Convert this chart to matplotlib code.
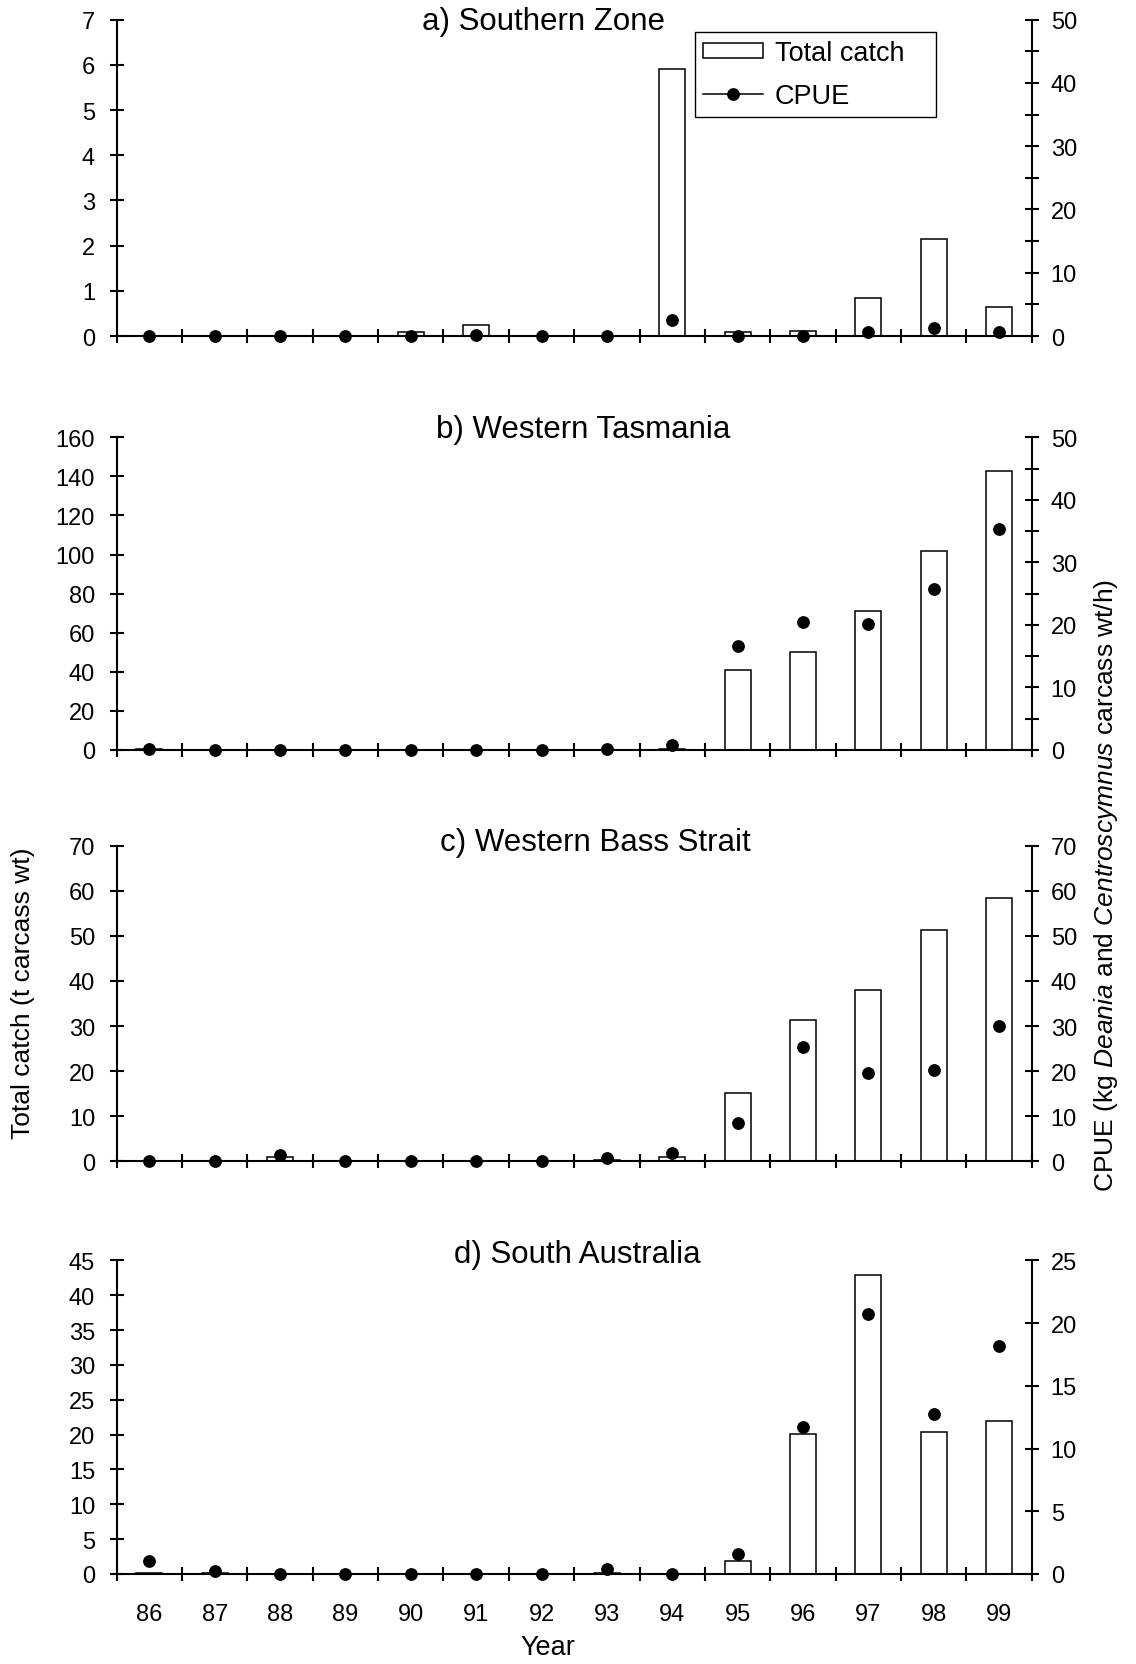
import matplotlib
matplotlib.use("Agg")
import matplotlib.pyplot as plt
from matplotlib.lines import Line2D
from matplotlib.patches import Patch
import numpy as np

plt.rcParams['font.family'] = ['Liberation Sans', 'DejaVu Sans']
plt.rcParams['mathtext.fontset'] = 'custom'
plt.rcParams['mathtext.rm'] = 'Liberation Sans'
plt.rcParams['mathtext.it'] = 'Liberation Sans:italic'

years = ['86', '87', '88', '89', '90', '91', '92', '93', '94', '95', '96', '97', '98', '99']

catch_a = [0, 0, 0, 0, 0.08, 0.25, 0, 0, 5.92, 0.08, 0.12, 0.84, 2.15, 0.64]
cpue_a = [0, 0, 0, 0, 0, 0.15, 0, 0, 2.5, 0, 0, 0.6, 1.3, 0.6]

catch_b = [0.5, 0, 0, 0, 0, 0, 0, 0, 0.5, 40.9, 50.3, 71.3, 101.7, 142.6]
cpue_b = [0.15, 0, 0, 0, 0, 0, 0, 0.2, 0.85, 16.6, 20.5, 20.1, 25.7, 35.3]

catch_c = [0, 0, 0.9, 0, 0, 0, 0, 0.2, 1.0, 15.1, 31.3, 38.1, 51.3, 58.5]
cpue_c = [0, 0, 1.3, 0, 0, 0, 0, 0.7, 1.8, 8.6, 25.4, 19.6, 20.2, 30.0]

catch_d = [0.1, 0.2, 0, 0, 0, 0, 0, 0.2, 0, 1.9, 20.1, 42.9, 20.3, 21.9]
cpue_d = [1.0, 0.2, 0, 0, 0, 0, 0, 0.4, 0, 1.6, 11.7, 20.7, 12.75, 18.2]

titles = ['a) Southern Zone', 'b) Western Tasmania', 'c) Western Bass Strait', 'd) South Australia']

W, H = 1136, 1665
fig = plt.figure(figsize=(W / 100, H / 100), dpi=100)

# panel layout in pixels: (top, bottom)
panels_px = [(20.7, 337.0), (438.3, 751.0), (846.7, 1162.3), (1261.3, 1575.0)]
left_px, right_px = 116.7, 1031.7
title_px = [(543, 22), (583, 430), (595, 843), (577, 1255)]

cfg = [
    dict(c=catch_a, p=cpue_a, lmax=7, lstep=1, rmax=50, rmaj=10, rmin=5),
    dict(c=catch_b, p=cpue_b, lmax=160, lstep=20, rmax=50, rmaj=10, rmin=5),
    dict(c=catch_c, p=cpue_c, lmax=70, lstep=10, rmax=70, rmaj=10, rmin=None),
    dict(c=catch_d, p=cpue_d, lmax=45, lstep=5, rmax=25, rmaj=5, rmin=None),
]

TICKFS = 17
x = np.arange(len(years))
lw_sp = 1.5

for i, (cf, (t, b)) in enumerate(zip(cfg, panels_px)):
    ax = fig.add_axes([left_px / W, 1 - b / H, (right_px - left_px) / W, (b - t) / H])
    ax.bar(x, cf['c'], width=0.4, color='white', edgecolor='black', linewidth=1.1, zorder=1)
    ax.set_xlim(-0.5, len(years) - 0.5)
    ax.set_ylim(0, cf['lmax'])
    ax.set_yticks(np.arange(0, cf['lmax'] + 0.001, cf['lstep']))
    ax.set_yticklabels([f"{v:g}" for v in np.arange(0, cf['lmax'] + 0.001, cf['lstep'])])
    ax.set_xticks(np.arange(-0.5, len(years)))
    ax.set_xticklabels([])
    ax.set_xticks(x, minor=True)
    if i == 3:
        ax.set_xticklabels(years, minor=True)
    else:
        ax.set_xticklabels([], minor=True)
    ax.tick_params(axis='x', which='major', direction='inout', length=10, width=lw_sp)
    ax.tick_params(axis='x', which='minor', length=0, pad=21, labelsize=TICKFS)
    ax.tick_params(axis='y', which='major', direction='inout', length=10, width=lw_sp,
                   pad=10.6, labelsize=TICKFS)
    ax.spines['top'].set_visible(False)
    ax.spines['right'].set_visible(False)
    for s in ['left', 'bottom']:
        ax.spines[s].set_linewidth(lw_sp)

    ax2 = ax.twinx()
    ax2.plot(x, cf['p'], linestyle='none', marker='o', color='black', markersize=8.2,
             clip_on=False, zorder=5)
    ax2.set_ylim(0, cf['rmax'])
    ax2.set_yticks(np.arange(0, cf['rmax'] + 0.001, cf['rmaj']))
    ax2.set_yticklabels([f"{v:g}" for v in np.arange(0, cf['rmax'] + 0.001, cf['rmaj'])])
    if cf['rmin']:
        ax2.set_yticks(np.arange(0, cf['rmax'] + 0.001, cf['rmin']), minor=True)
        ax2.tick_params(axis='y', which='minor', direction='inout', length=10, width=lw_sp)
    ax2.tick_params(axis='y', which='major', direction='inout', length=10, width=lw_sp,
                    pad=8.7, labelsize=TICKFS)
    for s in ['top', 'left', 'bottom']:
        ax2.spines[s].set_visible(False)
    ax2.spines['right'].set_linewidth(lw_sp)

    tx, ty = title_px[i]
    fig.text(tx / W, 1 - ty / H, titles[i], ha='center', va='center', fontsize=22.5)

    if i == 0:
        handles = [Patch(facecolor='white', edgecolor='black', linewidth=1.1),
                   Line2D([], [], color='black', marker='o', markersize=8.2, linewidth=1.1)]
        x0, y0, x1, y1 = 695, 33, 936, 113
        leg = fig.legend(handles, ['Total catch', 'CPUE'],
                         bbox_to_anchor=(x0 / W, 1 - y1 / H, (x1 - x0) / W, (y1 - y0) / H),
                         loc='upper left', mode='expand', fontsize=19.5, frameon=True,
                         fancybox=False, edgecolor='black', framealpha=1,
                         borderpad=0.3, borderaxespad=0, handlelength=2.2,
                         handleheight=0.5, handletextpad=0.45, labelspacing=0.62)
        leg.get_frame().set_linewidth(1.0)

fig.text(23 / W, 1 - 993 / H, 'Total catch (t carcass wt)', rotation=90,
         ha='center', va='center', fontsize=19)
fig.text(1106 / W, 1 - 885 / H,
         r'CPUE (kg $\mathit{Deania}$ and $\mathit{Centroscymnus}$ carcass wt/h)',
         rotation=90, ha='center', va='center', fontsize=19)
fig.text(548 / W, 1 - 1648 / H, 'Year', ha='center', va='center', fontsize=19.5)

fig.savefig('out.png', dpi=100)
